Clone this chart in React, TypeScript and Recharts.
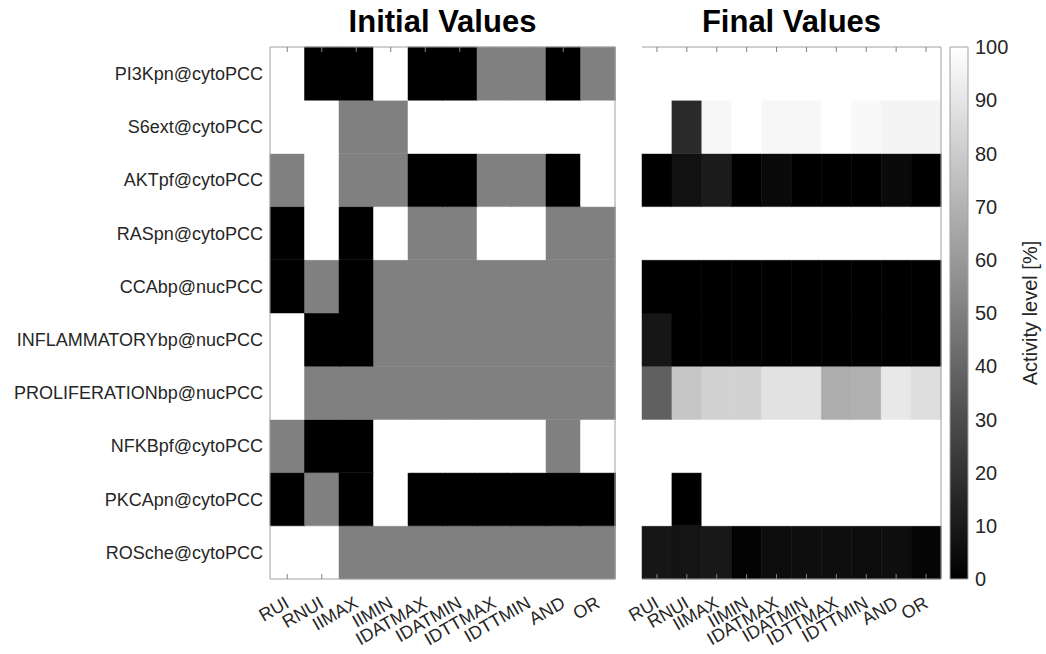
import React from 'react';
import { BarChart, Bar, XAxis, YAxis, Cell } from 'recharts';

// ---------- data ----------
const columns = ['RUI', 'RNUI', 'IIMAX', 'IIMIN', 'IDATMAX', 'IDATMIN', 'IDTTMAX', 'IDTTMIN', 'AND', 'OR'];

const rows = [
  'PI3Kpn@cytoPCC',
  'S6ext@cytoPCC',
  'AKTpf@cytoPCC',
  'RASpn@cytoPCC',
  'CCAbp@nucPCC',
  'INFLAMMATORYbp@nucPCC',
  'PROLIFERATIONbp@nucPCC',
  'NFKBpf@cytoPCC',
  'PKCApn@cytoPCC',
  'ROSche@cytoPCC',
];

// activity level [%] per row (top to bottom), per column (left to right)
const initialValues: number[][] = [
  [100, 0, 0, 100, 0, 0, 50, 50, 0, 50],
  [100, 100, 50, 50, 100, 100, 100, 100, 100, 100],
  [50, 100, 50, 50, 0, 0, 50, 50, 0, 100],
  [0, 100, 0, 100, 50, 50, 100, 100, 50, 50],
  [0, 50, 0, 50, 50, 50, 50, 50, 50, 50],
  [100, 0, 0, 50, 50, 50, 50, 50, 50, 50],
  [100, 50, 50, 50, 50, 50, 50, 50, 50, 50],
  [50, 0, 0, 100, 100, 100, 100, 100, 50, 100],
  [0, 50, 0, 100, 0, 0, 0, 0, 0, 0],
  [100, 100, 50, 50, 50, 50, 50, 50, 50, 50],
];

const finalValues: number[][] = [
  [100, 100, 100, 100, 100, 100, 100, 100, 100, 100],
  [100, 16.5, 97, 100, 97, 97, 100, 97.5, 95.5, 95.5],
  [0, 6.7, 11, 0, 4, 0, 0, 0, 4, 0],
  [100, 100, 100, 100, 100, 100, 100, 100, 100, 100],
  [0, 0, 0, 0, 0, 0, 0, 0, 0, 0],
  [8.6, 0, 0, 0, 0, 0, 0, 0, 0, 0],
  [37.6, 77.6, 82.4, 82.4, 88.6, 88.6, 67.8, 69, 91, 87],
  [100, 100, 100, 100, 100, 100, 100, 100, 100, 100],
  [100, 0, 100, 100, 100, 100, 100, 100, 100, 100],
  [8.6, 7.8, 9.4, 1.2, 4.7, 5.5, 5.5, 4.7, 5.5, 2],
];

const rowTicks = [0.5, 1.5, 2.5, 3.5, 4.5, 5.5, 6.5, 7.5, 8.5, 9.5];
const colorbarTicks = [0, 10, 20, 30, 40, 50, 60, 70, 80, 90, 100];
const colorbarData = [{ name: 'scale', level: 100 }];

// ---------- style ----------
const FONT = '"Liberation Sans", Arial, Helvetica, sans-serif';
const TEXT = '#262626';
const FRAME = '#a0a0a0';
const TICK = '#808080';

const gray = (v: number) => {
  const g = Math.round((Math.max(0, Math.min(100, v)) / 100) * 255);
  return `rgb(${g},${g},${g})`;
};

const cellData = columns.map((c) => {
  const d: Record<string, any> = { name: c };
  rows.forEach((_, ri) => {
    d['r' + ri] = 1;
  });
  return d;
});

const XTick = (props: any) => {
  const { x, y, payload } = props;
  return (
    <text
      x={x}
      y={y}
      dy="0.35em"
      textAnchor="end"
      fontSize={18}
      fontFamily={FONT}
      fill={TEXT}
      transform={`rotate(-30, ${x}, ${y})`}
    >
      {payload.value}
    </text>
  );
};

const NoLabel = () => <g />;

type HeatProps = {
  values: number[][];
  labels: boolean;
  width: number;
  height: number;
  margin: { top: number; right: number; bottom: number; left: number };
};

function Heatmap({ values, labels, width, height, margin }: HeatProps) {
  const stackOrder = rows.map((_, i) => rows.length - 1 - i);
  return (
    <BarChart
      width={width}
      height={height}
      data={cellData}
      margin={margin}
      barCategoryGap={0}
      barGap={0}
    >
      <XAxis
        xAxisId="main"
        dataKey="name"
        orientation="bottom"
        interval={0}
        height={60}
        tickSize={0}
        tickMargin={22}
        tickLine={false}
        axisLine={{ stroke: FRAME }}
        tick={<XTick />}
      />
      <XAxis
        xAxisId="top"
        dataKey="name"
        orientation="top"
        mirror
        interval={0}
        height={6}
        tick={<NoLabel />}
        tickSize={5}
        tickLine={{ stroke: TICK }}
        axisLine={{ stroke: FRAME }}
      />
      <XAxis
        xAxisId="bot"
        dataKey="name"
        orientation="bottom"
        mirror
        interval={0}
        height={6}
        tick={<NoLabel />}
        tickSize={5}
        tickLine={{ stroke: TICK }}
        axisLine={false}
      />
      <YAxis
        yAxisId="main"
        type="number"
        domain={[0, 10]}
        ticks={rowTicks}
        interval={0}
        width={labels ? 262 : 0}
        tickSize={0}
        tickMargin={7}
        tickLine={false}
        axisLine={{ stroke: FRAME }}
        tick={labels ? { fontSize: 18, fill: TEXT, fontFamily: FONT } : <NoLabel />}
        tickFormatter={(v: number) => rows[rows.length - 1 - Math.floor(v)]}
      />
      <YAxis
        yAxisId="lm"
        type="number"
        orientation="left"
        mirror
        domain={[0, 10]}
        ticks={rowTicks}
        interval={0}
        width={6}
        tick={<NoLabel />}
        tickSize={5}
        tickLine={{ stroke: TICK }}
        axisLine={false}
      />
      <YAxis
        yAxisId="rm"
        type="number"
        orientation="right"
        mirror
        domain={[0, 10]}
        ticks={rowTicks}
        interval={0}
        width={6}
        tick={<NoLabel />}
        tickSize={5}
        tickLine={{ stroke: TICK }}
        axisLine={{ stroke: FRAME }}
      />
      {stackOrder.map((ri) => (
        <Bar
          key={ri}
          xAxisId="main"
          yAxisId="main"
          dataKey={'r' + ri}
          stackId="cells"
          isAnimationActive={false}
        >
          {columns.map((_, ci) => (
            <Cell
              key={ci}
              fill={gray(values[ri][ci])}
              stroke={gray(values[ri][ci])}
              strokeWidth={0.5}
            />
          ))}
        </Bar>
      ))}
    </BarChart>
  );
}

const titleStyle: React.CSSProperties = {
  position: 'absolute',
  top: 4,
  fontFamily: FONT,
  fontWeight: 'bold',
  fontSize: 31,
  color: '#000',
  textAlign: 'center',
  lineHeight: '36px',
};

export default function App() {
  return (
    <div style={{ position: 'absolute', left: 0, top: 0, width: 1046, height: 654, background: '#fff', overflow: 'hidden' }}>
      <div style={{ ...titleStyle, left: 270, width: 345 }}>Initial Values</div>
      <div style={{ ...titleStyle, left: 642, width: 299 }}>Final Values</div>

      <div style={{ position: 'absolute', left: 0, top: 0 }}>
        <Heatmap
          values={initialValues}
          labels
          width={625}
          height={654}
          margin={{ top: 47, right: 10, bottom: 15, left: 8 }}
        />
      </div>

      <div style={{ position: 'absolute', left: 600, top: 0 }}>
        <Heatmap
          values={finalValues}
          labels={false}
          width={350}
          height={654}
          margin={{ top: 47, right: 9, bottom: 15, left: 42 }}
        />
      </div>

      <div style={{ position: 'absolute', left: 940, top: 0 }}>
        <BarChart
          width={106}
          height={654}
          data={colorbarData}
          margin={{ top: 47, right: 8, bottom: 75, left: 10 }}
          barCategoryGap={0}
        >
          <defs>
            <linearGradient id="grayScale" x1="0" y1="1" x2="0" y2="0">
              <stop offset="0%" stopColor="#000" />
              <stop offset="100%" stopColor="#fff" />
            </linearGradient>
          </defs>
          <XAxis dataKey="name" hide />
          <YAxis
            orientation="right"
            type="number"
            domain={[0, 100]}
            ticks={colorbarTicks}
            interval={0}
            width={70}
            tickSize={0}
            tickMargin={7}
            tickLine={false}
            axisLine={false}
            tick={{ fontSize: 20, fill: TEXT, fontFamily: FONT }}
          />
          <Bar dataKey="level" fill="url(#grayScale)" stroke={FRAME} strokeWidth={1} isAnimationActive={false} />
        </BarChart>
      </div>

      <div
        style={{
          position: 'absolute',
          left: 1030 - 100,
          top: 313 - 12,
          width: 200,
          height: 24,
          lineHeight: '24px',
          textAlign: 'center',
          fontFamily: FONT,
          fontSize: 20,
          color: TEXT,
          transform: 'rotate(-90deg)',
          transformOrigin: '100px 12px',
          whiteSpace: 'nowrap',
        }}
      >
        Activity level [%]
      </div>
    </div>
  );
}
